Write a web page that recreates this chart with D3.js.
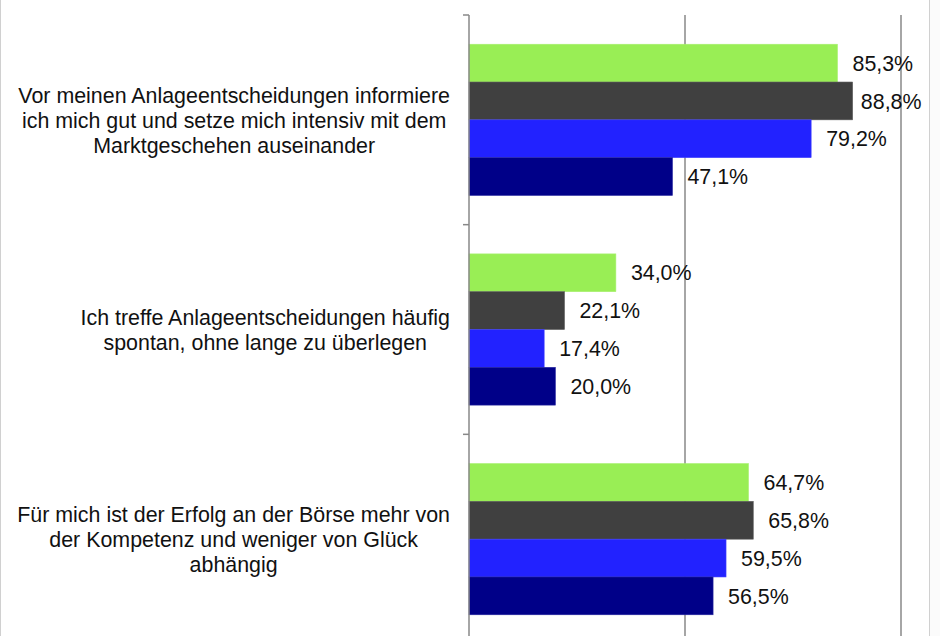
<!DOCTYPE html>
<html>
<head>
<meta charset="utf-8">
<script src="https://cdn.jsdelivr.net/npm/d3@7"></script>
<style>
  body { margin: 0; background: #fff; }
  svg { display: block; font-family: "Liberation Sans", Arial, sans-serif; }
</style>
</head>
<body>
<div id="chart"></div>
<script>
// Data
const categories = [
    ["Vor meinen Anlageentscheidungen informiere", "ich mich gut und setze mich intensiv mit dem", "Marktgeschehen auseinander"],
    ["Ich treffe Anlageentscheidungen häufig", "spontan, ohne lange zu überlegen"],
    ["Für mich ist der Erfolg an der Börse mehr von", "der Kompetenz und weniger von Glück", "abhängig"]
];
const series = ["Serie 1", "Serie 2", "Serie 3", "Serie 4"];
const values = [
    [85.3, 88.8, 79.2, 47.1],
    [34.0, 22.1, 17.4, 20.0],
    [64.7, 65.8, 59.5, 56.5]
];
const xTicks = [0, 50, 100];
const colors = ["#99ee55", "#404040", "#2222ff", "#000088"];
const strokes = ["#a8f070", "#5a5a5a", "#4040ff", "#2828a0"];

// Set up dimensions
const width = 940;
const height = 636;
const fontSize = 21.4;
const lineHeight = 25;
const labelRight = 450;
const chartRight = 929.5;

const svg = d3.select("#chart")
    .append("svg")
    .attr("width", width)
    .attr("height", height);

// Chart frame (cropped on top and bottom)
svg.append("rect")
    .attr("x", 930).attr("y", 0)
    .attr("width", 10).attr("height", height)
    .attr("fill", "#fbfbfb");
svg.append("line")
    .attr("x1", 0.5).attr("x2", 0.5).attr("y1", 0).attr("y2", height)
    .attr("stroke", "#d0d0d0");
svg.append("line")
    .attr("x1", chartRight).attr("x2", chartRight).attr("y1", 0).attr("y2", height)
    .attr("stroke", "#d0d0d0");

const x = d3.scaleLinear().domain([0, 100]).range([469, 901]);
const y0 = d3.scaleBand()
    .domain(d3.range(categories.length))
    .range([15, 644]);
const y1 = d3.scaleBand()
    .domain(series)
    .range([0, y0.bandwidth()])
    .paddingInner(0)
    .paddingOuter(0.773);

// Gridlines
svg.selectAll(".grid")
    .data(xTicks.slice(1))
    .join("line")
    .attr("x1", d => x(d)).attr("x2", d => x(d))
    .attr("y1", y0.range()[0]).attr("y2", y0.range()[1])
    .attr("stroke", "#888")
    .attr("stroke-width", 1.5);

// Bars
const groups = svg.selectAll(".group")
    .data(values)
    .join("g")
    .attr("transform", (d, i) => `translate(0,${y0(i)})`);

groups.selectAll("rect")
    .data(d => d.map((v, j) => ({ v, j })))
    .join("rect")
    .attr("x", x(0))
    .attr("y", d => y1(series[d.j]))
    .attr("width", d => x(d.v) - x(0))
    .attr("height", y1.bandwidth())
    .attr("fill", d => colors[d.j])
    .attr("stroke", d => strokes[d.j])
    .attr("stroke-width", 0.6);

// Value labels
const fmt = v => d3.format(".1f")(v).replace(".", ",") + "%";
groups.selectAll("text")
    .data(d => d.map((v, j) => ({ v, j })))
    .join("text")
    .attr("y", d => y1(series[d.j]) + y1.bandwidth() / 2)
    .attr("dy", "0.36em")
    .attr("font-size", fontSize)
    .attr("fill", "#111")
    .text(d => fmt(d.v))
    .attr("x", function (d) {
        const w = this.getComputedTextLength();
        return Math.min(x(d.v) + 15, chartRight - 8 - w);
    });

// Category axis
svg.append("line")
    .attr("x1", x(0)).attr("x2", x(0))
    .attr("y1", y0.range()[0]).attr("y2", y0.range()[1])
    .attr("stroke", "#888")
    .attr("stroke-width", 1.5);

const tickYs = d3.range(categories.length + 1).map(i => y0.range()[0] + i * y0.bandwidth());
svg.selectAll(".tick")
    .data(tickYs)
    .join("line")
    .attr("x1", x(0) - 6).attr("x2", x(0))
    .attr("y1", d => d).attr("y2", d => d)
    .attr("stroke", "#888")
    .attr("stroke-width", 1.5);

// Category labels: block right-aligned, lines centred within the block
categories.forEach((lines, i) => {
    const g = svg.append("g");
    const texts = g.selectAll("text")
        .data(lines)
        .join("text")
        .attr("font-size", fontSize)
        .attr("fill", "#111")
        .attr("text-anchor", "middle")
        .text(d => d);
    let maxW = 0;
    texts.each(function () { maxW = Math.max(maxW, this.getComputedTextLength()); });
    const cx = labelRight - maxW / 2;
    const cy = y0(i) + y0.bandwidth() / 2;
    texts
        .attr("x", cx)
        .attr("y", (d, k) => cy + (k - (lines.length - 1) / 2) * lineHeight)
        .attr("dy", "0.36em");
});
</script>
</body>
</html>
